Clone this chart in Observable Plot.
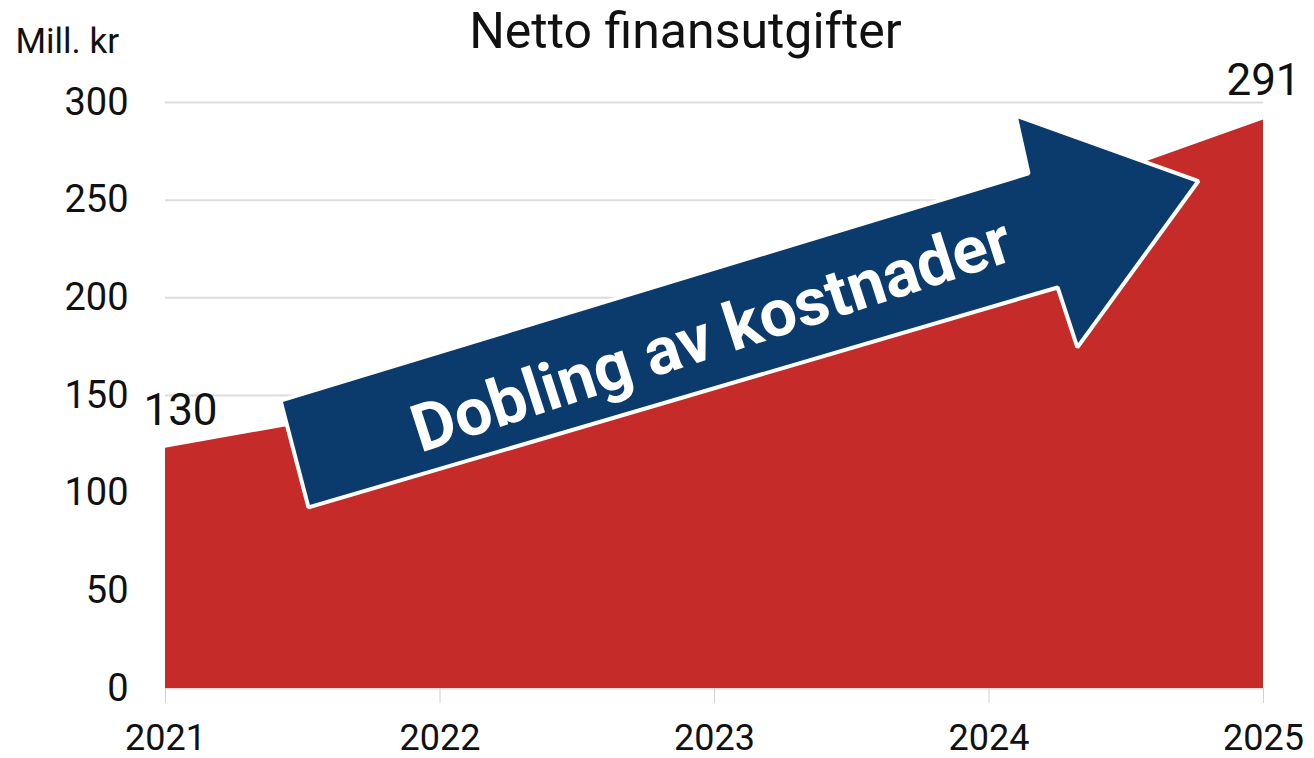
<!DOCTYPE html>
<html>
<head>
<meta charset="utf-8">
<script src="https://cdn.jsdelivr.net/npm/d3@7"></script>
<script src="https://cdn.jsdelivr.net/npm/@observablehq/plot@0.6"></script>
<style>
  html, body { margin: 0; padding: 0; background: #ffffff; }
  #chart { width: 1314px; height: 758px; }
  svg { font-family: Roboto, "Liberation Sans", sans-serif; }
</style>
</head>
<body>
<div id="chart"></div>
<script>
// ---- data ----
const years = [2021, 2022, 2023, 2024, 2025];
const values = [123, 148, 190, 241, 291];
const yTicks = [0, 50, 100, 150, 200, 250, 300];
const xTicks = [2021, 2022, 2023, 2024, 2025];
const startLabel = "130";
const endLabel = "291";
const title = "Netto finansutgifter";
const unitLabel = "Mill. kr";
// annotation arrow outline, in data units (year, value)
const arrowYear  = [2021.419, 2024.144, 2024.097, 2024.763, 2024.322, 2024.250, 2021.521, 2021.419];
const arrowValue = [147.4,    263.7,    293.3,    259.8,    174.6,    205.3,    92.7,     147.4];
const arrowText = "Dobling av kostnader";
const arrowTextYear = [2022.99];
const arrowTextValue = [180.5];

const series = years.map((y, i) => ({year: y, value: values[i]}));
const arrow = arrowYear.map((x, i) => ({x, y: arrowValue[i]}));
const first = [{year: years[0], value: values[0], text: startLabel}];
const last = [{year: years[years.length - 1], value: values[values.length - 1], text: endLabel}];

const red = "#c52c29";
const navy = "#0b3a6c";

const chart = Plot.plot({
  width: 1314,
  height: 758,
  marginTop: 102,
  marginBottom: 70,
  marginLeft: 165,
  marginRight: 51,
  x: {type: "linear", domain: [2021, 2025]},
  y: {domain: [0, 300]},
  style: {fontFamily: "Roboto, 'Liberation Sans', sans-serif", color: "#111"},
  marks: [
    Plot.gridY(yTicks, {stroke: "#dcdcdc", strokeOpacity: 1, strokeWidth: 2}),
    Plot.areaY(series, {x: "year", y: "value", fill: red, curve: "linear"}),
    Plot.axisY({ticks: yTicks, tickSize: 0, tickPadding: 37, fontSize: 38, label: null, fill: "#111"}),
    Plot.axisX({ticks: xTicks, tickFormat: d => String(d), tickSize: 15, tickPadding: 21, fontSize: 36, label: null, stroke: "#d0d0d0", fill: "#111"}),
    Plot.line(arrow, {x: "x", y: "y", fill: navy, stroke: "#ffffff", strokeWidth: 4, strokeLinejoin: "miter", curve: "linear"}),
    Plot.text([arrowText], {x: arrowTextYear, y: arrowTextValue, text: d => d, rotate: -18, fill: "#ffffff", fontSize: 66, fontWeight: "bold", textAnchor: "middle", lineAnchor: "middle"}),
    Plot.text(first, {x: "year", y: "value", text: "text", fontSize: 44, fill: "#111", textAnchor: "middle", lineAnchor: "bottom", dx: 15, dy: -23}),
    Plot.text(last, {x: "year", y: "value", text: "text", fontSize: 44, fill: "#111", textAnchor: "middle", lineAnchor: "bottom", dx: 0, dy: -25}),
    Plot.text([title], {frameAnchor: "top", text: d => d, fontSize: 50, fill: "#111", lineAnchor: "bottom", dx: -29, dy: -55}),
    Plot.text([unitLabel], {frameAnchor: "top-left", text: d => d, fontSize: 35, fill: "#111", textAnchor: "start", lineAnchor: "bottom", dx: -150, dy: -50})
  ]
});
document.getElementById("chart").appendChild(chart);
</script>
</body>
</html>
